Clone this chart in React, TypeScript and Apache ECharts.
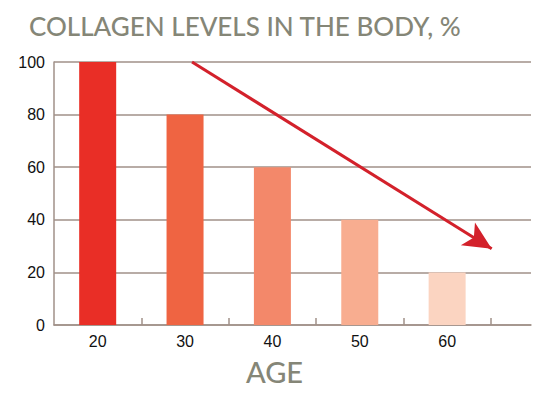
import React, { useEffect, useRef } from "react";
import * as echarts from "echarts";

const ages = [20, 30, 40, 50, 60];
const collagen = [100, 80, 60, 40, 20];
const barColors = ["#e92e26", "#ef6442", "#f3886a", "#f8ad90", "#fbd4c1"];
const yTicks = [0, 20, 40, 60, 80, 100];
const xTickMarks = [25, 35, 45, 55, 65];
const trendStart = [30.8, 100];
const trendEnd = [65.1, 29];

export default function App() {
  const ref = useRef<HTMLDivElement>(null);
  useEffect(() => {
    const chart = echarts.init(ref.current!, null, { renderer: "svg" });
    const gridColor = "#a09189";
    chart.setOption({
      animation: false,
      backgroundColor: "#ffffff",
      graphic: [
        {
          type: "text",
          left: 29,
          top: 13,
          style: {
            text: "COLLAGEN LEVELS IN THE BODY, %",
            font: "500 26px Lato",
            fill: "#858677",
          },
        },
        {
          type: "text",
          left: 246,
          top: 357,
          style: {
            text: "AGE",
            font: "500 29px Lato",
            fill: "#858677",
          },
        },
      ],
      grid: { left: 54, right: 20, top: 62, bottom: 73, containLabel: false },
      xAxis: {
        type: "value",
        min: 15,
        max: 69.6,
        axisLine: { show: true, lineStyle: { color: gridColor, width: 1.5 } },
        splitLine: { show: false },
        axisTick: {
          show: true,
          inside: true,
          length: 7,
          customValues: xTickMarks,
          lineStyle: { color: gridColor, width: 1.5 },
        },
        axisLabel: {
          customValues: ages,
          color: "#111",
          fontFamily: "Liberation Sans",
          fontSize: 16,
          margin: 8,
          formatter: (v: number) => String(v),
        },
      },
      yAxis: {
        type: "value",
        min: 0,
        max: 100,
        interval: 20,
        axisLine: { show: true, lineStyle: { color: gridColor, width: 1.5 } },
        axisTick: { show: false },
        splitLine: { show: true, lineStyle: { color: gridColor, width: 1.5 } },
        axisLabel: {
          color: "#111",
          fontFamily: "Liberation Sans",
          fontSize: 16,
          margin: 9,
          customValues: yTicks,
        },
      },
      series: [
        {
          type: "bar",
          barWidth: 37,
          data: ages.map((a, i) => ({
            value: [a, collagen[i]],
            itemStyle: { color: barColors[i] },
          })),
          markLine: {
            silent: true,
            symbol: ["none", "arrow"],
            symbolSize: [20, 28],
            label: { show: false },
            lineStyle: { color: "#d3212b", width: 3, type: "solid" },
            data: [[{ coord: trendStart }, { coord: trendEnd }]],
          },
        },
      ],
    });
    return () => chart.dispose();
  }, []);
  return <div ref={ref} style={{ width: 551, height: 398, position: "absolute", left: 0, top: 0 }} />;
}
